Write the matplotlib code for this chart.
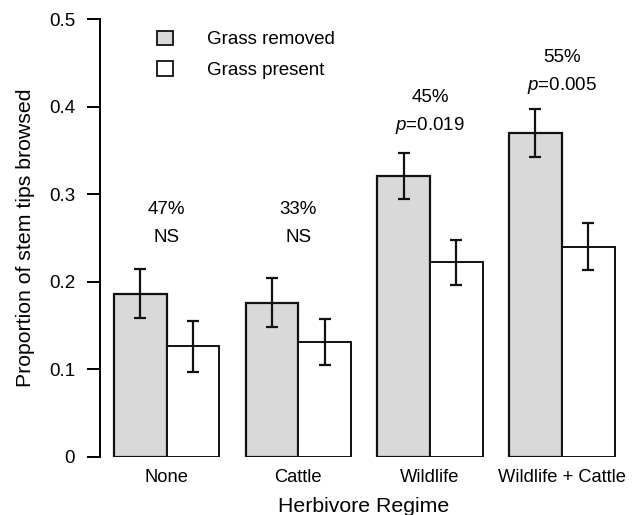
import matplotlib
matplotlib.use("Agg")
import matplotlib.pyplot as plt
import numpy as np
from matplotlib.patches import Patch

plt.rcParams['font.family'] = ['Liberation Sans', 'DejaVu Sans']
plt.rcParams['mathtext.fontset'] = 'custom'
plt.rcParams['mathtext.rm'] = 'Liberation Sans'
plt.rcParams['mathtext.it'] = 'Liberation Sans:italic'

categories = ["None", "Cattle", "Wildlife", "Wildlife + Cattle"]
removed_mean = [0.186, 0.176, 0.321, 0.370]
removed_err = [0.028, 0.028, 0.026, 0.027]
present_mean = [0.126, 0.131, 0.222, 0.240]
present_err = [0.029, 0.026, 0.026, 0.027]
pct_labels = ["47%", "33%", "45%", "55%"]
sig_labels = ["NS", "NS", r"$\it{p}$=0.019", r"$\it{p}$=0.005"]
series_names = ["Grass removed", "Grass present"]
yticks = [0, 0.1, 0.2, 0.3, 0.4, 0.5]
ytick_labels = ["0", "0.1", "0.2", "0.3", "0.4", "0.5"]

# annotation heights (upper line, lower line)
ann_upper = [0.282, 0.282, 0.410, 0.456]
ann_lower = [0.250, 0.250, 0.378, 0.424]

fig = plt.figure(figsize=(6.42, 5.15), dpi=100)
ax = fig.add_axes([100/642, (515-456.7)/515, (627.7-100)/642, (456.7-19.2)/515])

x = np.arange(len(categories))
w = 0.4
grey = '#d9d9d9'
ax.bar(x - w/2, removed_mean, width=w, color=grey, edgecolor='#111111', linewidth=1.6, zorder=2)
ax.bar(x + w/2, present_mean, width=w, color='white', edgecolor='#111111', linewidth=1.4, zorder=2)
ax.errorbar(x - w/2, removed_mean, yerr=removed_err, fmt='none', ecolor='#111111',
            elinewidth=1.6, capsize=4, capthick=1.6, zorder=3)
ax.errorbar(x + w/2, present_mean, yerr=present_err, fmt='none', ecolor='#111111',
            elinewidth=1.6, capsize=4, capthick=1.6, zorder=3)

for i in range(len(categories)):
    ax.text(x[i], ann_upper[i], pct_labels[i], ha='center', va='center', fontsize=13.5)
    ax.text(x[i], ann_lower[i], sig_labels[i], ha='center', va='center', fontsize=13.5)

ax.set_xlim(-0.506, 3.5)
ax.set_ylim(0, 0.5)
ax.set_yticks(yticks)
ax.set_yticklabels(ytick_labels, fontsize=13.5)
ax.set_xticks(x)
ax.set_xticklabels(categories, fontsize=13.2)
ax.tick_params(axis='x', length=0, pad=9)
ax.tick_params(axis='y', length=9.5, width=1.4, pad=8.5)
for s in ['top', 'right', 'bottom']:
    ax.spines[s].set_visible(False)
ax.spines['left'].set_linewidth(1.4)
ax.spines['left'].set_bounds(0, 0.5)

ax.set_xlabel("Herbivore Regime", fontsize=15.3, labelpad=8)
ax.set_ylabel("Proportion of stem tips browsed", fontsize=15.3, labelpad=10)

handles = [Patch(facecolor=grey, edgecolor='#111111', linewidth=1.3),
           Patch(facecolor='white', edgecolor='#111111', linewidth=1.3)]
leg = ax.legend(handles, series_names, loc='upper left',
                bbox_to_anchor=(157/642, (515-30.5)/515), bbox_transform=fig.transFigure,
                frameon=False, fontsize=13.5, handlelength=0.85, handleheight=0.85,
                handletextpad=1.8, labelspacing=0.65, borderpad=0, borderaxespad=0)

fig.savefig("out.png", dpi=100)
